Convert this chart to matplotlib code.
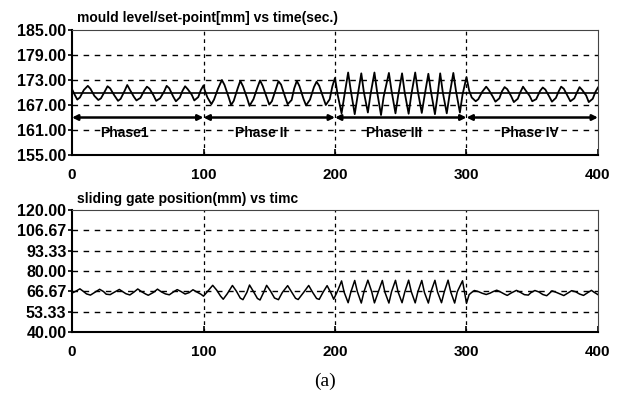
import matplotlib.pyplot as plt

# mould level (mm)
level_t = [0, 2, 4, 6, 9, 12, 14, 17, 20, 22, 25, 27, 29, 32, 35, 37, 40, 42, 44, 47,
           49, 52, 55, 57, 59, 62, 64, 67, 70, 72, 74, 77, 79, 82, 84, 86, 88, 91, 93, 96,
           98, 100,
           101, 103, 106, 108, 111, 114, 116, 119, 121, 123, 126, 128, 130, 133, 135, 138,
           141, 143, 145, 148, 150, 152, 155, 157, 159, 162, 164, 167, 169, 171, 173, 176,
           178, 181, 184, 186, 188, 191, 193, 196, 198,
           200, 202, 205, 207, 210, 212, 215, 217, 220, 222, 225, 227, 230, 232, 235, 237,
           241, 243, 246, 248, 251, 253, 256, 258, 261, 263, 266, 268, 271, 273, 276, 278,
           280, 282, 285, 287, 290, 292, 295, 297, 300,
           302, 304, 307, 309, 312, 315, 317, 320, 322, 325, 327, 329, 331, 334, 336, 339,
           341, 343, 345, 348, 350, 353, 356, 358, 360, 363, 365, 368, 370, 372, 374, 377,
           379, 382, 384, 386, 388, 391, 393, 396, 398, 400]
level_v = [170.8, 169.5, 168.3, 168.8, 170.6, 171.6, 170.9, 169.2, 168.2, 168.6, 170.3, 171.5,
           171.0, 169.4, 168.0, 168.5, 170.4, 171.8, 170.7, 169.0, 168.1, 168.7, 170.5, 171.4,
           170.9, 169.3, 168.0, 168.6, 170.2, 171.6, 171.0, 169.0, 167.9, 168.8, 170.4, 171.5,
           170.8, 169.5, 168.1, 168.9, 170.6, 171.7,
           170.5, 168.8, 167.2, 168.3, 170.9, 173.0, 171.8, 169.0, 167.0, 168.0, 171.0, 172.8,
           171.5, 168.8, 166.8, 168.4, 171.2, 172.9, 171.6, 168.9, 167.1, 167.9, 170.8, 172.7,
           171.9, 169.0, 167.2, 168.2, 171.0, 172.8, 171.5, 168.5, 166.9, 168.3, 171.3, 172.6,
           171.6, 168.8, 167.0, 168.4, 171.5,
           173.5, 169.5, 165.0, 169.0, 174.8, 170.5, 164.8, 168.8, 174.6, 170.0, 165.2, 169.5,
           174.8, 170.2, 164.6, 169.0, 174.7, 170.4, 165.0, 169.2, 174.6, 170.0, 164.9, 169.4,
           174.8, 170.3, 165.1, 169.0, 174.5, 170.2, 164.8, 169.3, 174.6, 170.0, 165.0, 169.2,
           174.7, 170.4, 165.2, 169.5, 173.7,
           170.5, 168.8, 167.9, 168.4, 170.2, 171.4, 170.6, 169.0, 167.8, 168.6, 170.3, 171.3,
           170.8, 169.1, 167.7, 168.5, 170.1, 171.4, 170.5, 169.2, 167.9, 168.4, 170.4, 171.2,
           170.7, 169.0, 167.8, 168.7, 170.2, 171.4, 170.9, 169.1, 167.9, 168.6, 170.0, 171.3,
           170.6, 169.3, 167.7, 168.5, 170.1, 171.2]
setpoint = 170.0

# sliding gate position (mm)
gate_t = [0, 3, 6, 9, 11, 14, 17, 21, 24, 26, 29, 32, 36, 39, 41, 44, 47, 50, 53, 56,
          58, 62, 65, 68, 71, 74, 77, 80, 83, 86, 89, 92, 95, 98, 100,
          103, 107, 110, 113, 115, 118, 122, 125, 128, 130, 133, 135, 138, 141, 143, 146,
          148, 151, 154, 157, 160, 164, 167, 170, 172, 176, 180, 183, 186, 188, 191, 194,
          197, 199,
          202, 205, 207, 210, 212, 215, 217, 220, 222, 225, 228, 230, 233, 236, 238, 241,
          243, 246, 248, 251, 253, 256, 258, 261, 263, 266, 268, 271, 273, 276, 278, 281,
          283, 286, 288, 291, 293, 297, 300,
          302, 304, 306, 309, 312, 315, 318, 320, 323, 326, 329, 331, 334, 338, 341, 344,
          347, 349, 352, 355, 358, 361, 363, 365, 368, 371, 374, 377, 380, 383, 386, 389,
          392, 395, 397, 400]
gate_v = [65.5, 66.8, 68.3, 66.4, 65.0, 64.2, 65.8, 68.0, 66.5, 64.8, 64.5, 66.0, 67.9, 66.2,
          65.1, 64.3, 66.1, 68.2, 66.4, 64.9, 64.1, 66.0, 68.1, 66.3, 65.0, 64.4, 66.2, 67.8,
          66.5, 64.9, 65.8, 67.7, 66.2, 64.8, 63.5,
          66.5, 70.6, 67.5, 63.5, 61.5, 65.0, 70.5, 66.8, 62.2, 61.2, 66.0, 70.8, 66.5, 62.0,
          61.0, 66.5, 70.6, 66.8, 62.3, 61.2, 66.0, 70.4, 66.2, 62.1, 61.3, 65.8, 70.5, 66.0,
          62.0, 61.4, 66.2, 70.4, 65.5, 61.5,
          67.0, 73.5, 66.0, 59.2, 66.0, 73.8, 66.5, 59.0, 66.3, 74.0, 66.2, 59.1, 66.5, 73.8,
          66.0, 59.0, 66.4, 73.9, 66.2, 59.2, 66.0, 74.0, 66.5, 59.1, 66.3, 73.8, 66.0, 59.0,
          66.5, 73.9, 66.2, 59.2, 66.0, 74.0, 66.3, 59.0, 66.4, 73.6, 58.8,
          64.5, 66.0, 67.2, 66.5, 65.4, 64.6, 65.5, 66.4, 67.4, 66.2, 64.8, 64.0, 65.6, 67.3,
          66.0, 64.5, 64.2, 65.8, 67.2, 66.3, 64.6, 63.8, 65.3, 67.0, 66.1, 65.0, 63.9, 65.5,
          67.1, 66.4, 64.9, 64.0, 65.7, 67.3, 66.1, 64.5]

phase_edges = [0, 100, 200, 300, 400]
phase_names = ["Phase1", "Phase II", "Phase III", "Phase IV"]
phase_label_x = [40, 144, 245, 348]

level_ticks = [155, 161, 167, 173, 179, 185]
gate_ticks = [40, 53.33, 66.67, 80, 93.33, 106.67, 120]
time_ticks = [0, 100, 200, 300, 400]

plt.rcParams['font.family'] = ['Liberation Sans', 'DejaVu Sans']
plt.rcParams['font.weight'] = 'bold'

fig = plt.figure(figsize=(6.24, 3.99), dpi=100)
ax1 = fig.add_axes([0.1154, 0.6115, 0.8429, 0.3133])
ax2 = fig.add_axes([0.1154, 0.1679, 0.8429, 0.3058])


def style_axes(ax, yticks):
  ax.set_xlim(0, 400)
  ax.set_ylim(yticks[0], yticks[-1])
  ax.set_xticks(time_ticks)
  ax.set_yticks(yticks)
  ax.set_yticklabels([f"{v:.2f}" for v in yticks])
  ax.tick_params(axis='y', direction='out', length=3, width=1.2, labelsize=11.5, pad=1)
  ax.tick_params(axis='x', direction='in', length=4, width=1.2, labelsize=11, pad=9)
  for lbl in ax.get_xticklabels() + ax.get_yticklabels():
    lbl.set_fontweight('bold')
  for v in yticks[1:-1]:
    ax.axhline(v, color='black', lw=1.0, ls=(0, (4, 4)), zorder=1)
  for v in time_ticks[1:-1]:
    ax.axvline(v, color='black', lw=0.9, ls=(0, (3, 3)), zorder=1)
  for side in ['left', 'bottom']:
    ax.spines[side].set_linewidth(1.5)
  for side in ['top', 'right']:
    ax.spines[side].set_linewidth(0.8)
    ax.spines[side].set_color('#444444')


# top panel: mould level
style_axes(ax1, level_ticks)
ax1.plot(level_t, level_v, color='black', lw=1.3, zorder=3)
ax1.axhline(setpoint, color='black', lw=1.2, zorder=2)
for i in range(len(phase_names)):
  ax1.annotate('', xy=(phase_edges[i], 164), xytext=(phase_edges[i + 1], 164),
               arrowprops=dict(arrowstyle='<|-|>', color='black', lw=1.8,
                               mutation_scale=8, shrinkA=0, shrinkB=0), zorder=4)
  ax1.text(phase_label_x[i], 160.4, phase_names[i], ha='center', va='center',
           fontsize=10, fontweight='bold', zorder=4)
ax1.text(0.01, 1.04, "mould level/set-point[mm] vs time(sec.)", transform=ax1.transAxes,
         fontsize=10, fontweight='bold', va='bottom')

# bottom panel: sliding gate
style_axes(ax2, gate_ticks)
ax2.plot(gate_t, gate_v, color='black', lw=1.1, zorder=3)
ax2.text(0.01, 1.03, "sliding gate position(mm) vs timc", transform=ax2.transAxes,
         fontsize=10, fontweight='bold', va='bottom')

fig.text(0.521, 0.043, "(a)", ha='center', va='center', fontsize=14,
         family='Liberation Serif', fontweight='normal')

fig.savefig('out.png', dpi=100)
